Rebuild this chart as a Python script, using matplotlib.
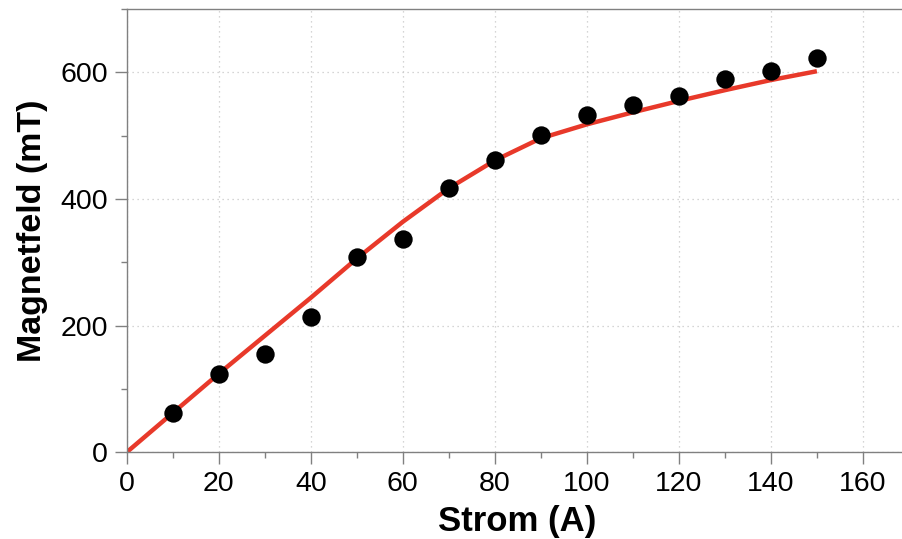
import numpy as np
import matplotlib.pyplot as plt
from matplotlib.ticker import MultipleLocator

plt.rcParams['font.family'] = ['Liberation Sans', 'DejaVu Sans']

# measured points: current (A) vs field (mT)
strom = [10, 20, 30, 40, 50, 60, 70, 80, 90, 100, 110, 120, 130, 140, 150]
feld = [62, 123, 155, 213, 309, 337, 417, 461, 501, 533, 549, 563, 590, 602, 623]

# fitted curve
fit_strom = [0, 10, 20, 30, 40, 50, 60, 70, 80, 90, 100, 110, 120, 130, 140, 150]
fit_feld = [0, 62, 124, 184, 244, 306, 364, 417, 461, 496, 518, 537, 555, 572, 588, 602]

fig = plt.figure(figsize=(9.02, 5.39), dpi=100)
ax = fig.add_axes([0.1405, 0.161, 0.8595, 0.822])

ax.plot(fit_strom, fit_feld, color='#e8392a', lw=3.2, solid_capstyle='butt', zorder=2)
ax.scatter(strom, feld, s=175, color='black', zorder=3, linewidths=0)

ax.set_xlim(0, 168.5)
ax.set_ylim(0, 700)
ax.xaxis.set_major_locator(MultipleLocator(20))
ax.xaxis.set_minor_locator(MultipleLocator(10))
ax.yaxis.set_major_locator(MultipleLocator(200))
ax.yaxis.set_minor_locator(MultipleLocator(100))

ax.grid(True, which='major', color='#c8c8c8', lw=0.9, ls=(0, (1, 3)))
ax.set_axisbelow(True)

for s in ['left', 'bottom', 'top']:
    ax.spines[s].set_color('#808080')
    ax.spines[s].set_linewidth(1.0)
ax.spines['right'].set_visible(False)

ax.tick_params(which='major', length=8.6, width=1.0, color='#808080', labelsize=20.5, pad=5)
ax.tick_params(which='minor', length=4.3, width=1.0, color='#808080')
ax.tick_params(top=False)

ax.set_xlabel('Strom (A)', fontsize=25, fontweight='bold', va='baseline')
ax.set_ylabel('Magnetfeld (mT)', fontsize=24.5, fontweight='bold', va='center')
ax.xaxis.set_label_coords(0.503, -0.178)
ax.yaxis.set_label_coords(-0.121, 0.5)

fig.savefig('out.png', dpi=100)
